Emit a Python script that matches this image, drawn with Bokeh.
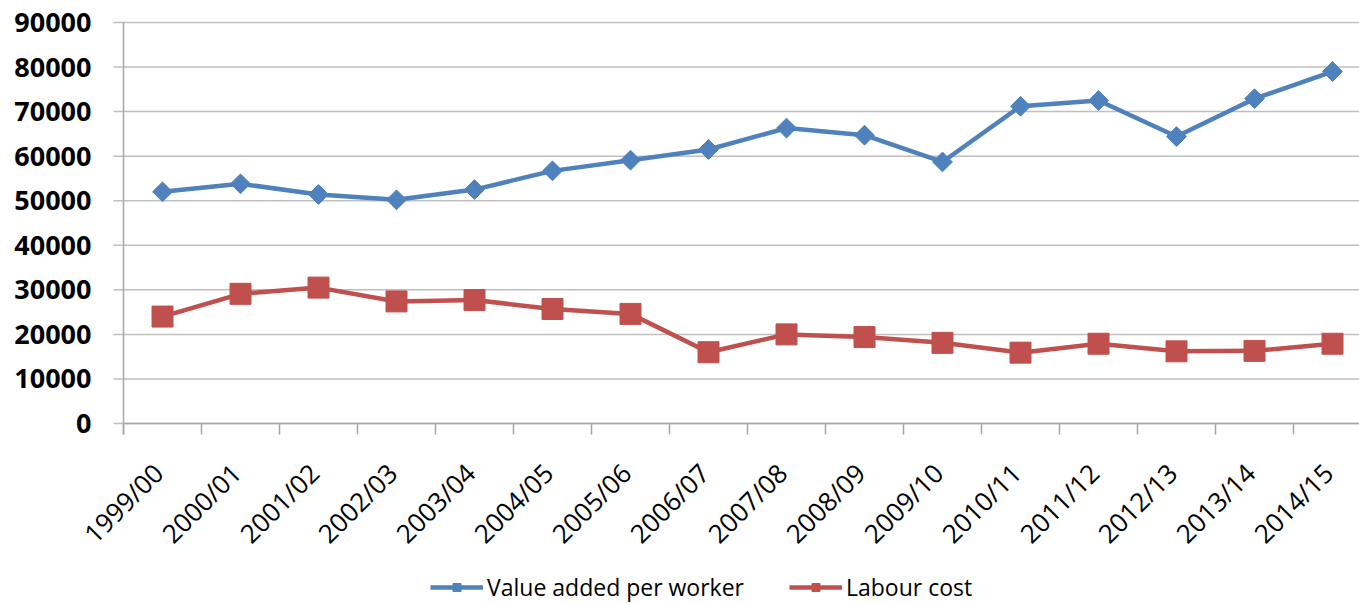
import math

from bokeh.plotting import figure
from bokeh.models import Range1d, Legend, LegendItem, ColumnDataSource
from bokeh.core.properties import value
from bokeh.embed import file_html
from bokeh.resources import INLINE

# Financial years on the category axis
years = ["1999/00", "2000/01", "2001/02", "2002/03", "2003/04", "2004/05",
         "2005/06", "2006/07", "2007/08", "2008/09", "2009/10", "2010/11",
         "2011/12", "2012/13", "2013/14", "2014/15"]

# Series values
value_added = [52000, 53800, 51400, 50200, 52500, 56700, 59100, 61500,
               66300, 64700, 58700, 71200, 72500, 64400, 72900, 79000]
labour_cost = [24000, 29100, 30500, 27400, 27700, 25700, 24600, 16000,
               20000, 19400, 18100, 15900, 17900, 16200, 16300, 17900]

y_ticks = [0, 10000, 20000, 30000, 40000, 50000, 60000, 70000, 80000, 90000]

BLUE = "#4F81BD"
RED = "#C0504D"
GRID = "#BFBFBF"
AXIS = "#A6A6A6"
FONT = "Open Sans"

# Layout geometry (pixels)
W, H = 1359, 603
LEFT = 123           # pixel column of the value axis
TOP = 22             # pixel row of the top value
SLOT = 78            # width of one category slot
PLOT_H = 401         # height of the 0..90000 value band
BELOW = H - TOP - PLOT_H
Y_MAX = 90000
PX = PLOT_H / Y_MAX  # pixels per value unit


def px_x(px):
    """Horizontal pixel position -> category units."""
    return (px - LEFT) / SLOT


def px_to_val(px):
    """Vertical pixel distance -> value units."""
    return px / PX


# Categories sit at the centres of unit-wide slots; ticks mark slot edges
centres = [i + 0.5 for i in range(len(years))]
edges = list(range(len(years) + 1))

src = ColumnDataSource(dict(x=centres, va=value_added, lc=labour_cost))

p = figure(frame_width=W, frame_height=H, output_backend="svg",
           toolbar_location=None, x_axis_location=None, y_axis_location=None,
           x_range=Range1d(px_x(0), px_x(W)),
           y_range=Range1d(-px_to_val(BELOW), Y_MAX + px_to_val(TOP)),
           min_border=0, min_border_left=0, min_border_right=0,
           min_border_top=0, min_border_bottom=0)

p.outline_line_color = None
p.background_fill_color = "white"
p.border_fill_color = "white"
p.xgrid.visible = False
p.ygrid.visible = False

n_y = len(y_ticks)

# Horizontal gridlines, starting with a short stub left of the value axis
p.segment(x0=[px_x(113)] * n_y, y0=y_ticks, x1=[px_x(W)] * n_y, y1=y_ticks,
          line_color=GRID, line_width=1.5)

# Value-axis labels
p.text(x=[px_x(91)] * n_y, y=y_ticks, text=[str(t) for t in y_ticks],
       text_align="right", text_baseline="middle", text_font=value(FONT),
       text_font_style="bold", text_font_size="27px", text_color="black")

# Axis lines and tick marks between categories
tick_low = -px_to_val(11)
p.segment(x0=[0], y0=[0], x1=[px_x(W)], y1=[0], line_color=AXIS, line_width=1.5)
p.segment(x0=[0], y0=[tick_low], x1=[0], y1=[Y_MAX], line_color=AXIS, line_width=1.5)
p.segment(x0=edges, y0=[0] * len(edges), x1=edges, y1=[tick_low] * len(edges),
          line_color=AXIS, line_width=1.5)

# Rotated year labels, each ending just under its category centre
label_src = ColumnDataSource(dict(x=[c - 17 / SLOT for c in centres],
                                  y=[-px_to_val(32)] * len(years),
                                  text=years))
p.text(x="x", y="y", text="text", source=label_src, angle=math.pi / 4,
       text_align="right", text_baseline="top", text_font=value(FONT),
       text_font_size="26px", text_color="black")

# Series
l1 = p.line("x", "va", source=src, line_color=BLUE, line_width=4.5)
m1 = p.scatter("x", "va", source=src, marker="square", angle=math.pi / 4,
               size=14, fill_color=BLUE, line_color=BLUE)
l2 = p.line("x", "lc", source=src, line_color=RED, line_width=4.5)
m2 = p.scatter("x", "lc", source=src, marker="square", size=21,
               fill_color=RED, line_color=RED)

# Legend along the bottom edge
legend = Legend(items=[LegendItem(label="Value added per worker", renderers=[l1, m1]),
                       LegendItem(label="Labour cost", renderers=[l2, m2])],
                orientation="horizontal", location=(430, 0),
                border_line_color=None, background_fill_alpha=0,
                label_text_font=FONT, label_text_font_size="23px",
                label_text_color="black", glyph_width=53, glyph_height=20,
                label_standoff=4, spacing=45, margin=0, padding=0)
p.add_layout(legend)

open("out.html", "w").write(file_html(p, INLINE))
